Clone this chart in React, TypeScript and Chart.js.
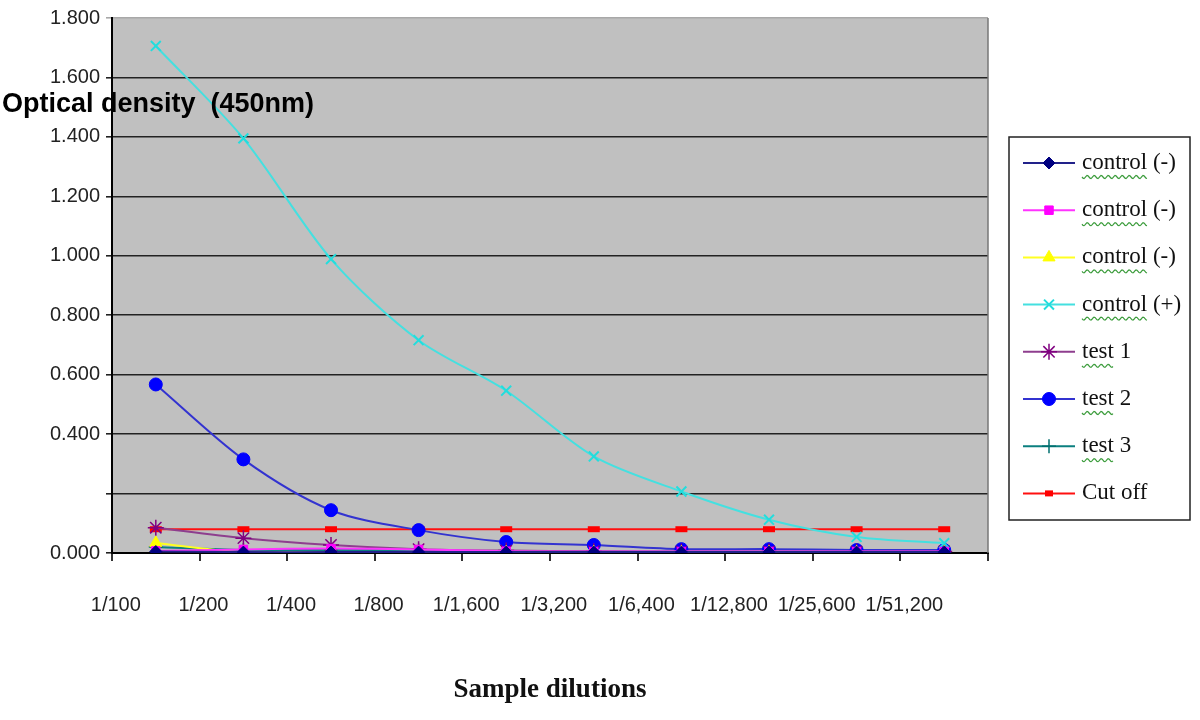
import React, { useEffect, useRef } from "react";
import { Chart, registerables } from "chart.js";
import { drawPoint } from "chart.js/helpers";

Chart.register(...registerables);

const categories = ["1/100", "1/200", "1/400", "1/800", "1/1,600", "1/3,200", "1/6,400", "1/12,800", "1/25,600", "1/51,200"];

const controlNeg1 = [0.005, 0.003, 0.003, 0.003, 0.003, 0.003, 0.003, 0.003, 0.003, 0.003];
const controlNeg2 = [0.007, 0.012, 0.015, 0.012, 0.006, 0.005, 0.005, 0.005, 0.005, 0.005];
const controlNeg3 = [0.034, 0.002, 0.002, 0.002, 0.002, 0.002, 0.002, 0.002, 0.002, 0.002];
const controlPos = [1.706, 1.395, 0.989, 0.716, 0.546, 0.325, 0.207, 0.112, 0.054, 0.033];
const test1 = [0.085, 0.05, 0.027, 0.013, 0.008, 0.006, 0.005, 0.005, 0.005, 0.005];
const test2 = [0.567, 0.315, 0.144, 0.077, 0.037, 0.027, 0.013, 0.013, 0.01, 0.01];
const test3 = [0.02, 0.01, 0.01, 0.008, 0.006, 0.005, 0.004, 0.004, 0.004, 0.004];
const cutOff = [0.08, 0.08, 0.08, 0.08, 0.08, 0.08, 0.08, 0.08, 0.08, 0.08];

const seriesNames = ["control (-)", "control (-)", "control (-)", "control (+)", "test 1", "test 2", "test 3", "Cut off"];
const yTitle = "Optical density  (450nm)";
const xTitle = "Sample dilutions";

type Style = {
  line: string;
  point: string;
  style: string;
  radius: number;
  bw: number;
};

const styles: Style[] = [
  { line: "#22228a", point: "#000080", style: "rectRot", radius: 6, bw: 1 },
  { line: "#ff33ff", point: "#ff00ff", style: "rect", radius: 6, bw: 1 },
  { line: "#ffff22", point: "#ffff00", style: "triangle", radius: 7, bw: 1 },
  { line: "#44e0e0", point: "#22dddd", style: "crossRot", radius: 7, bw: 2 },
  { line: "#8e3e8e", point: "#800080", style: "star", radius: 8, bw: 1.5 },
  { line: "#3333d0", point: "#0000ff", style: "circle", radius: 6.5, bw: 1 },
  { line: "#0b7f7f", point: "#006f6f", style: "cross", radius: 7, bw: 1.5 },
  { line: "#ff1010", point: "#ff0000", style: "line", radius: 6, bw: 6 },
];

const seriesData = [controlNeg1, controlNeg2, controlNeg3, controlPos, test1, test2, test3, cutOff];

const bgPlugin = {
  id: "plotBg",
  beforeDraw(chart: any) {
    const { ctx, chartArea } = chart;
    ctx.save();
    ctx.fillStyle = "#c0c0c0";
    ctx.fillRect(chartArea.left, chartArea.top, chartArea.right - chartArea.left, chartArea.bottom - chartArea.top);
    ctx.restore();
  },
  afterDraw(chart: any) {
    const { ctx, chartArea } = chart;
    ctx.save();
    // right border of plot
    ctx.strokeStyle = "#777";
    ctx.lineWidth = 1.5;
    ctx.beginPath();
    ctx.moveTo(chartArea.right, chartArea.top);
    ctx.lineTo(chartArea.right, chartArea.bottom);
    ctx.stroke();

    // y-axis title
    ctx.fillStyle = "#000";
    ctx.font = 'bold 27px "Liberation Sans", Arial, sans-serif';
    ctx.textBaseline = "middle";
    ctx.textAlign = "left";
    ctx.fillText(yTitle, 2, 105);

    // legend
    const bx = 1009, by = 137, bw = 181, bh = 383;
    ctx.fillStyle = "#ffffff";
    ctx.fillRect(bx, by, bw, bh);
    ctx.strokeStyle = "#222";
    ctx.lineWidth = 1.5;
    ctx.strokeRect(bx, by, bw, bh);
    ctx.font = '23px "Liberation Serif", "Times New Roman", serif';
    seriesNames.forEach((name, i) => {
      const s = styles[i];
      const y = 163 + i * 47.2;
      ctx.strokeStyle = s.line;
      ctx.lineWidth = 2;
      ctx.beginPath();
      ctx.moveTo(1023, y);
      ctx.lineTo(1075, y);
      ctx.stroke();
      ctx.fillStyle = s.point;
      ctx.strokeStyle = s.point;
      ctx.lineWidth = s.bw;
      const r = i === 7 ? 4 : s.radius;
      drawPoint(ctx, { pointStyle: s.style as any, radius: r, rotation: 0, borderWidth: i === 7 ? 4 : s.bw }, 1049, y);
      ctx.fillStyle = "#111";
      ctx.textBaseline = "middle";
      ctx.textAlign = "left";
      ctx.fillText(name, 1082, y);
      const word = name.split(" ")[0];
      if (word === "control" || word === "test") {
        const w = ctx.measureText(word).width;
        ctx.strokeStyle = "#3c9c3c";
        ctx.lineWidth = 1.2;
        ctx.beginPath();
        const uy = y + 14;
        for (let xx = 0; xx <= w; xx += 1) {
          const yy = uy + Math.sin((xx / 3.5) * Math.PI) * 1.5;
          if (xx === 0) ctx.moveTo(1082 + xx, yy);
          else ctx.lineTo(1082 + xx, yy);
        }
        ctx.stroke();
      }
    });
    ctx.restore();
  },
};

export default function App() {
  const canvasRef = useRef<HTMLCanvasElement | null>(null);

  useEffect(() => {
    const canvas = canvasRef.current;
    if (!canvas) return;
    const datasets = seriesData.map((d, i) => {
      const s = styles[i];
      return {
        label: seriesNames[i],
        data: d,
        borderColor: s.line,
        backgroundColor: s.point,
        borderWidth: 2,
        pointStyle: s.style as any,
        pointRadius: s.radius,
        pointBackgroundColor: s.point,
        pointBorderColor: s.point,
        pointBorderWidth: s.bw,
        tension: i === 7 ? 0 : 0.3,
        fill: false,
      };
    });
    const tickFont = { family: '"Liberation Sans", Arial, sans-serif', size: 20 };
    const chart = new Chart(canvas, {
      type: "line",
      data: { labels: categories, datasets },
      options: {
        animation: false,
        responsive: false,
        maintainAspectRatio: false,
        layout: { padding: { left: 0, top: 16, right: 212, bottom: 0 } },
        plugins: {
          legend: { display: false },
          tooltip: { enabled: false },
        },
        scales: {
          x: {
            offset: true,
            grid: {
              offset: true,
              drawOnChartArea: false,
              drawTicks: true,
              tickLength: 8,
              color: "#333",
              lineWidth: 2,
            },
            border: { color: "#000", width: 2 },
            ticks: {
              font: tickFont,
              color: "#222",
              padding: 32,
              labelOffset: -40,
              maxRotation: 0,
              autoSkip: false,
            },
            title: {
              display: true,
              text: xTitle,
              color: "#111",
              font: { family: '"Liberation Serif", "Times New Roman", serif', size: 27, weight: "bold" },
              padding: { top: 0, bottom: 14 },
            },
            afterFit: (s: any) => {
              s.height = 167;
            },
          },
          y: {
            min: 0,
            max: 1.8,
            grid: {
              color: (c: any) => (c.tick && c.tick.value > 1.79 ? "#a8a8a8" : "#222"),
              lineWidth: 1.6,
              tickLength: 6,
              drawTicks: true,
            },
            border: { color: "#000", width: 2 },
            ticks: {
              stepSize: 0.2,
              font: tickFont,
              color: "#222",
              padding: 6,
              callback: (v: any) => (Math.abs(Number(v) - 0.2) < 1e-9 ? "" : Number(v).toFixed(3)),
            },
            afterFit: (s: any) => {
              s.width = 112;
            },
          },
        },
      },
      plugins: [bgPlugin],
    });
    return () => chart.destroy();
  }, []);

  return (
    <div style={{ position: "absolute", left: 0, top: 0, width: 1200, height: 720, background: "#fff" }}>
      <canvas ref={canvasRef} width={1200} height={720} style={{ display: "block", width: 1200, height: 720 }} />
    </div>
  );
}
